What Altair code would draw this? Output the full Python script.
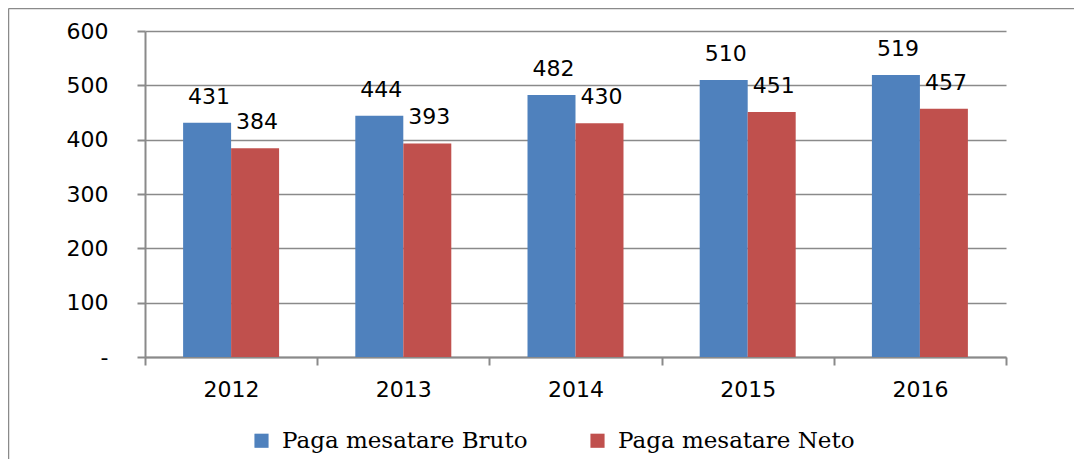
import altair as alt
import pandas as pd

years = ["2012", "2013", "2014", "2015", "2016"]
bruto = [431, 444, 482, 510, 519]
neto = [384, 393, 430, 451, 457]
series = ["Paga mesatare Bruto", "Paga mesatare Neto"]
colors = ["#4F81BD", "#C0504D"]
y_ticks = [0, 100, 200, 300, 400, 500, 600]

rows = []
for yr, b, n in zip(years, bruto, neto):
    rows.append({"year": yr, "series": series[0], "value": b})
    rows.append({"year": yr, "series": series[1], "value": n})
df = pd.DataFrame(rows)

W, H = 861, 326
GRID = "#8a8a8a"
SANS = "DejaVu Sans"
SERIF = "DejaVu Serif"
FS = 22

x_enc = alt.X(
    "year:N",
    sort=years,
    scale=alt.Scale(paddingInner=0, paddingOuter=0),
    axis=alt.Axis(
        title=None, labelAngle=0, tickBand="extent", tickSize=8, tickWidth=2,
        tickColor=GRID, domainColor=GRID, domainWidth=2, grid=False,
        labelFont=SANS, labelFontSize=FS, labelColor="#000000", labelPadding=14,
    ),
)
xo_enc = alt.XOffset(
    "series:N", sort=series,
    scale=alt.Scale(paddingInner=0, paddingOuter=0.794),
)
y_enc = alt.Y(
    "value:Q",
    scale=alt.Scale(domain=[0, 600], nice=False),
    axis=alt.Axis(
        title=None, values=y_ticks, grid=True, gridColor=GRID, gridWidth=1.6,
        tickSize=8, tickWidth=2, tickColor=GRID, domainColor=GRID, domainWidth=2,
        labelFont=SANS, labelFontSize=FS, labelColor="#000000", labelPadding=29,
        labelExpr="datum.value == 0 ? '-\u00a0\u00a0\u00a0' : datum.label",
    ),
)

bars = alt.Chart(df).mark_bar().encode(
    x=x_enc,
    xOffset=xo_enc,
    y=y_enc,
    color=alt.Color(
        "series:N", sort=series,
        scale=alt.Scale(domain=series, range=colors),
        legend=alt.Legend(
            title=None, orient="none", direction="horizontal",
            legendX=105, legendY=398, symbolType="square", symbolSize=200,
            symbolStrokeWidth=0, labelFont=SERIF, labelFontSize=23,
            labelColor="#000000", labelOffset=9, columnPadding=58, padding=0,
            labelLimit=0,
        ),
    ),
)

labels = alt.Chart(df).mark_text(
    baseline="bottom", dy=-14, dx=2, font=SANS, fontSize=FS, color="#000000"
).encode(
    x=alt.X("year:N", sort=years),
    xOffset=alt.XOffset("series:N", sort=series),
    y="value:Q",
    text="value:Q",
)

frame_df = pd.DataFrame({"k": [0]})
top_line = alt.Chart(frame_df).mark_rule(color=GRID, strokeWidth=1.5).encode(
    x=alt.value(-136.5), x2=alt.value(W + 68), y=alt.value(-22.5)
)
left_line = alt.Chart(frame_df).mark_rule(color=GRID, strokeWidth=1.5).encode(
    x=alt.value(-136.5), y=alt.value(-22.5), y2=alt.value(H + 110)
)

chart = alt.layer(bars, labels, top_line, left_line).properties(
    width=W, height=H,
    padding={"left": 137, "top": 23, "right": 68, "bottom": 102},
    autosize=alt.AutoSizeParams(type="none"),
    background="#ffffff",
).configure_view(stroke=None)

chart.save("out.html", embed_options={"renderer": "svg", "actions": False})
